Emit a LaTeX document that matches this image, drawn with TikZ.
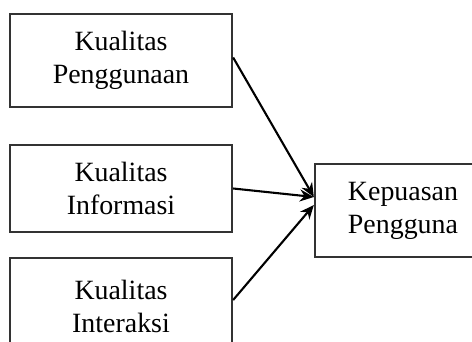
\documentclass[tikz,border=0pt]{standalone}
\usepackage{fontspec}
\setmainfont{Liberation Serif}
\usetikzlibrary{arrows.meta}
\tikzset{
  varbox/.style={draw=black!80,line width=2.3pt,align=center,inner sep=0pt,
    font=\fontsize{27.9}{33}\selectfont},
  pathway/.style={line width=2.1pt,-{Stealth[length=14pt,width=12pt]}}
}
\begin{document}
\begin{tikzpicture}[x=1pt,y=1pt]
  % Page frame and clipping
  \useasboundingbox (0,0) rectangle (472,342);
  \clip (0,0) rectangle (472,342);
  % Independent variables
  \node[varbox,minimum width=222,minimum height=93] (kp) at (121,281.5) {Kualitas\\Penggunaan};
  \node[varbox,minimum width=222,minimum height=87] (ki) at (121,153.5) {Kualitas\\Informasi};
  \node[varbox,minimum width=222,minimum height=96] (kx) at (121,36) {Kualitas\\Interaksi};
  % Dependent variable
  \node[varbox,minimum width=176,minimum height=93] (pu) at (403,131.5) {Kepuasan\\Pengguna};
  % Arrows
  \coordinate (tipA) at ([yshift=13.5]pu.west);
  \coordinate (tipB) at ([yshift=5.5]pu.west);
  \draw[pathway] ([yshift=3]kp.east) -- (tipA);
  \draw[pathway] (ki.east) -- (tipA);
  \draw[pathway] ([yshift=6]kx.east) -- (tipB);
\end{tikzpicture}
\end{document}
